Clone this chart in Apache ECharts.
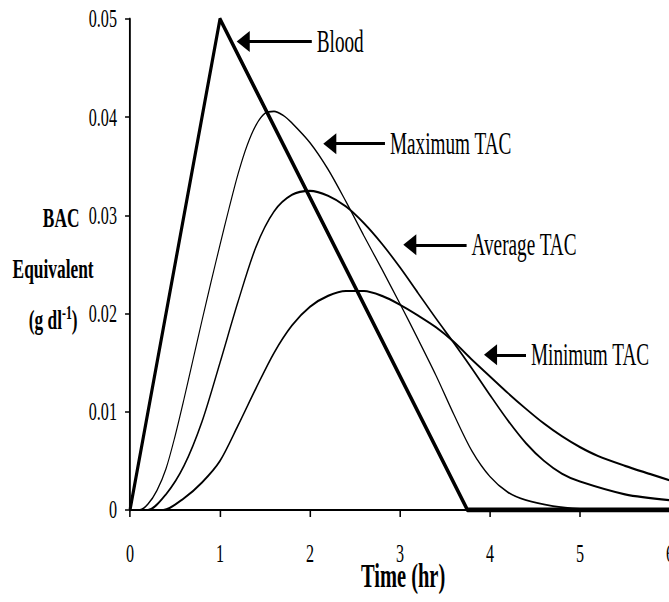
<!DOCTYPE html>
<html lang="en">
<head>
    <meta charset="UTF-8">
    <title>BAC vs TAC</title>
    <style>
        html, body { margin: 0; padding: 0; background: #fff; width: 669px; height: 602px; overflow: hidden; }
        #wrap { position: absolute; left: 0; top: 0; width: 669px; height: 602px; overflow: hidden; }
        /* the reference is squeezed sideways, so the chart is drawn wide and scaled */
        #main { width: 1079px; height: 602px; transform: scaleX(0.62); transform-origin: 0 0; }
    </style>
</head>
<body>
<div id="wrap"><div id="main"></div></div>
<script src="https://cdn.jsdelivr.net/npm/echarts@6/dist/echarts.min.js"></script>
<script type="text/javascript">
    var SX = 0.62;

    // [time (hr), g/dl]
    var bloodPoints = [[0, 0], [1, 0.05], [3.75, 0], [6, 0]];
    var maxTacPoints = [[0, 0], [0.11, 0], [0.2, 0.0006], [0.3, 0.0020], [0.4, 0.0042], [0.5, 0.0075],
        [0.6, 0.0113], [0.7, 0.0153], [0.8, 0.0193], [0.9, 0.0232], [1.0, 0.0270], [1.1, 0.0307],
        [1.2, 0.0342], [1.3, 0.0371], [1.4, 0.0392], [1.5, 0.0404], [1.6, 0.0406], [1.7, 0.0402],
        [1.8, 0.0394], [2.0, 0.0374], [2.2, 0.0347], [2.4, 0.0314], [2.6, 0.0279], [2.8, 0.0245],
        [3.0, 0.0210], [3.2, 0.0174], [3.4, 0.0137], [3.6, 0.0097], [3.8, 0.0060], [4.0, 0.0034],
        [4.2, 0.0018], [4.4, 0.0010], [4.7, 0.0004], [5.0, 0.0001], [5.3, 0], [6, 0]];
    var avgTacPoints = [[0, 0], [0.2, 0], [0.4, 0.0016], [0.6, 0.0045], [0.8, 0.0090], [1.0, 0.0150],
        [1.2, 0.0212], [1.4, 0.0268], [1.6, 0.0304], [1.8, 0.0321], [2.0, 0.0325], [2.2, 0.0320],
        [2.4, 0.0309], [2.6, 0.0292], [2.8, 0.0271], [3.0, 0.0247], [3.2, 0.0221], [3.4, 0.0195],
        [3.6, 0.0170], [3.8, 0.0144], [4.0, 0.0117], [4.2, 0.0091], [4.4, 0.0068], [4.6, 0.0050],
        [4.8, 0.0037], [5.0, 0.0029], [5.5, 0.0016], [6.0, 0.0010]];
    var minTacPoints = [[0, 0], [0.37, 0], [0.6, 0.0012], [0.8, 0.0028], [1.0, 0.0050], [1.2, 0.0086],
        [1.4, 0.0124], [1.6, 0.0160], [1.8, 0.0188], [2.0, 0.0207], [2.2, 0.0218], [2.4, 0.0223],
        [2.6, 0.0223], [2.8, 0.0218], [3.0, 0.0209], [3.2, 0.0198], [3.4, 0.0186], [3.6, 0.0171],
        [3.8, 0.0153], [4.0, 0.0136], [4.2, 0.0119], [4.4, 0.0103], [4.6, 0.0088], [4.8, 0.0075],
        [5.0, 0.0064], [5.2, 0.0055], [5.5, 0.0045], [5.8, 0.0036], [6.0, 0.0030]];

    var yTickLabels = ['0', '0.01', '0.02', '0.03', '0.04', '0.05'];
    var xTickLabels = ['0', '1', '2', '3', '4', '5', '6'];

    // arrow annotations: text, x of arrow tail, x of arrow head, y
    var noteTexts = ['Blood', 'Maximum TAC', 'Average TAC', 'Minimum TAC'];
    var noteTailX = [2.02, 2.833, 3.74, 4.40];
    var noteHeadX = [1.258, 2.220, 3.109, 4.006];
    var noteY = [0.0477, 0.0373, 0.0270, 0.0158];

    var font = 'Liberation Serif';

    var notes = noteTexts.map(function (t, i) {
        return [
            { coord: [noteTailX[i], noteY[i]], label: { formatter: t } },
            { coord: [noteHeadX[i], noteY[i]] }
        ];
    });

    var myChart = echarts.init(document.getElementById('main'), null, { renderer: 'svg' });

    var option = {
        animation: false,
        backgroundColor: '#fff',
        grid: { left: 130 / SX, top: 19, width: 540 / SX, height: 491, outerBoundsMode: 'none' },
        xAxis: {
            type: 'value', min: 0, max: 6, interval: 1,
            splitLine: { show: false },
            axisLine: { lineStyle: { color: '#000', width: 2 } },
            axisTick: { length: 7, lineStyle: { color: '#000', width: 2.5 } },
            axisLabel: {
                margin: 34, lineHeight: 20, color: '#000', fontFamily: font, fontSize: 26,
                formatter: function (v) { return xTickLabels[Math.round(v)]; }
            },
            name: 'Time (hr)', nameLocation: 'middle', nameGap: 54, nameMoveOverlap: false,
            nameTextStyle: {
                color: '#000', fontFamily: font, fontSize: 33, fontWeight: 'bold',
                lineHeight: 24, padding: [0, 0, 0, 10]
            }
        },
        yAxis: {
            type: 'value', min: 0, max: 0.05, interval: 0.01,
            splitLine: { show: false },
            axisLine: { show: true, lineStyle: { color: '#000', width: 3 } },
            axisTick: { show: true, length: 8, lineStyle: { color: '#000', width: 1.5 } },
            axisLabel: {
                margin: 21, color: '#000', fontFamily: font, fontSize: 26,
                formatter: function (v) { return yTickLabels[Math.round(v * 100)]; }
            },
            name: '{bac|BAC}\n{b|Equivalent}\n{b|(g dl}{sup|-1}{b|)}',
            nameLocation: 'middle', nameRotate: 0, nameGap: 124, nameMoveOverlap: false,
            nameTextStyle: {
                align: 'center', color: '#000', fontFamily: font, padding: [7, 0, 0, 0],
                rich: {
                    bac: { fontFamily: font, fontSize: 28, fontWeight: 'bold', color: '#000', lineHeight: 51, padding: [0, 0, 0, 26] },
                    b: { fontFamily: font, fontSize: 28, fontWeight: 'bold', color: '#000', lineHeight: 51 },
                    sup: { fontFamily: font, fontSize: 19, fontWeight: 'bold', color: '#000', padding: [0, 0, 14, 0] }
                }
            }
        },
        series: [
            {
                name: 'Maximum TAC', type: 'line', data: maxTacPoints, smooth: 0.3,
                showSymbol: false, lineStyle: { color: '#000', width: 1.8 }
            },
            {
                name: 'Average TAC', type: 'line', data: avgTacPoints, smooth: 0.3,
                showSymbol: false, lineStyle: { color: '#000', width: 2.2 }
            },
            {
                name: 'Minimum TAC', type: 'line', data: minTacPoints, smooth: 0.3,
                showSymbol: false, lineStyle: { color: '#000', width: 2.2 }
            },
            {
                name: 'Blood', type: 'line', data: bloodPoints,
                showSymbol: false, lineStyle: { color: '#000', width: 5 },
                markLine: {
                    silent: true,
                    symbol: ['none', 'triangle'],
                    symbolSize: 21,
                    lineStyle: { color: '#000', width: 3, type: 'solid' },
                    itemStyle: { color: '#000' },
                    label: {
                        show: true, position: 'start', distance: 8,
                        color: '#000', fontFamily: font, fontSize: 31
                    },
                    data: notes
                }
            }
        ]
    };

    myChart.setOption(option);
</script>
</body>
</html>
